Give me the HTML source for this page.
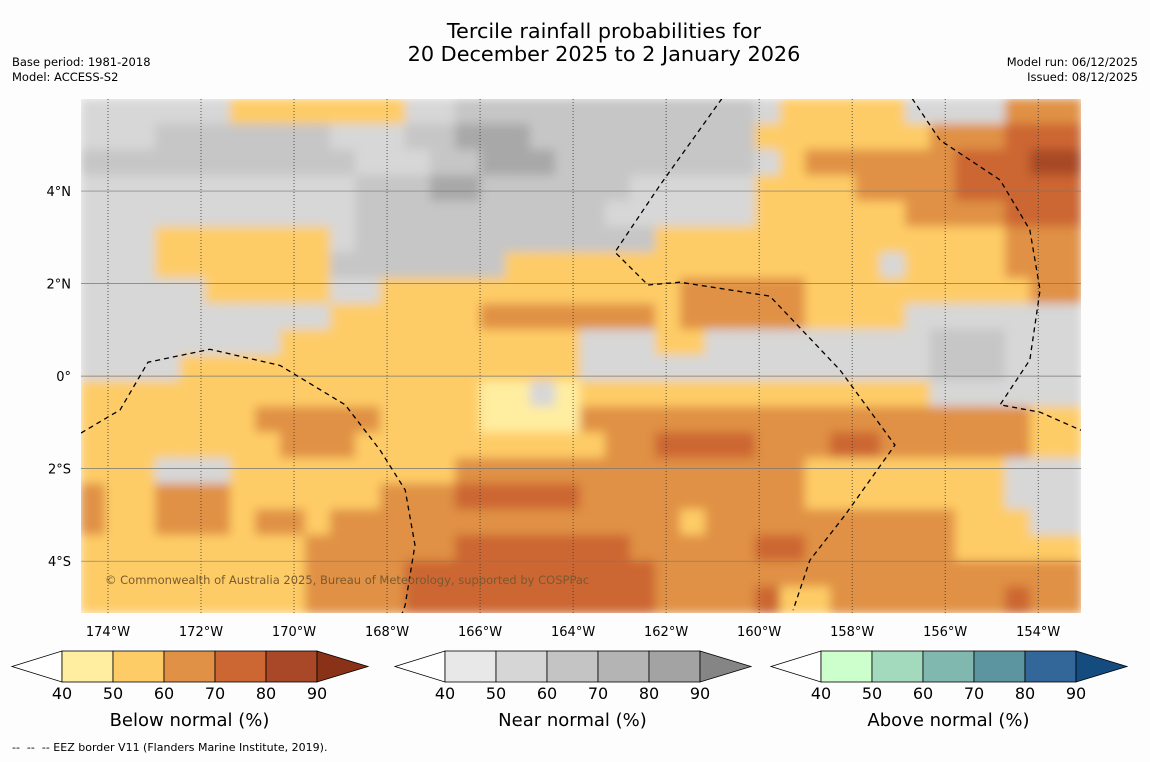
<!DOCTYPE html>
<html><head><meta charset="utf-8">
<style>
body{margin:0;background:#fdfdfd;font-family:"DejaVu Sans",sans-serif;}
svg text{font-family:"DejaVu Sans",sans-serif;fill:#000;}
</style></head>
<body>
<svg id="chart" width="1150" height="758" xmlns="http://www.w3.org/2000/svg">
<rect width="1150" height="758" fill="#fdfdfd"/>
<text x="604" y="38" font-size="20.8" text-anchor="middle">Tercile rainfall probabilities for</text>
<text x="604" y="61" font-size="20.8" text-anchor="middle">20 December 2025 to 2 January 2026</text>
<text x="12" y="66" font-size="11.5">Base period: 1981-2018</text>
<text x="12" y="81" font-size="11.5">Model: ACCESS-S2</text>
<text x="1138" y="66" font-size="11.5" text-anchor="end">Model run: 06/12/2025</text>
<text x="1138" y="81" font-size="11.5" text-anchor="end">Issued: 08/12/2025</text>
<defs>
<clipPath id="mapclip"><rect x="81" y="99" width="1000" height="514"/></clipPath>
<filter id="soft" x="-5%" y="-5%" width="110%" height="110%"><feGaussianBlur stdDeviation="5"/></filter>
</defs>
<g id="map" clip-path="url(#mapclip)">
<g id="cells" filter="url(#soft)"></g>
<g id="grid"></g>
<g id="eez"></g>
</g>
<text x="105" y="584" font-size="11.5" style="fill:#7a5a30">© Commonwealth of Australia 2025, Bureau of Meteorology, supported by COSPPac</text>
<g id="axes"></g>
<g id="bars"></g>
<text x="12" y="751" font-size="11">-- &#160;-- &#160;-- EEZ border V11 (Flanders Marine Institute, 2019).</text>
</svg>
<script>
const lonTicks=[-174,-172,-170,-168,-166,-164,-162,-160,-158,-156,-154];
const latTicks=[4,2,0,-2,-4];
const barLevels=[40,50,60,70,80,90];
const barTitles=["Below normal (%)","Near normal (%)","Above normal (%)"];
const belowColors=["#ffeda0","#fecc66","#e09145","#cc6633","#a84828","#8a3218"];
const nearColors=["#e8e8e8","#d6d6d6","#c4c4c4","#b4b4b4","#a3a3a3","#858585"];
const aboveColors=["#ccffcc","#a3d9bd","#80b8b0","#5c94a0","#336699","#144c80"];
const categoryRows=[
"ggggggYYYYYYYggGGGGGGGGGGGGgYYYYYggggOOO",
"gggGGGGGGGgggGGHHHGGGGGGGGGYYYYYYYOOORRR",
"GGGGGGGGGGGgggGGHHHGGGGGGGGgYOOOOOORRRDD",
"gggggggggggGGGHHGGGGGGgggggYYYYOOOORRRRR",
"gggggggggggGGGGGGGGGGggggggYYYYYYOOOORRR",
"gggYYYYYYYgGGGGGGGGGGGGYYYYYYYYYYYYYYOOO",
"gggYYYYYYYGGGGGGGYYYYYYYYYYYYYYYgYYYYOOO",
"gggggYYYYYggYYYYYYYYYYYYOOOOOYYYYYYYYYOO",
"ggggggggggYYYYYYOOOOOOOYOOOOOYYYYggggggg",
"ggggggggYYYYYYYYYYYYgggYYgggggggggGGGggg",
"ggggYYYYYYYYYYYYYYYYggggggggggggggGGGggg",
"YYYYYYYYYYYYYYYYyygyYYYYYYYYYYYYYYgggggg",
"YYYYYYYOOOOOYYYYyyyyOOOOOOOOOOOOOOOOOOYY",
"YYYYYYYYOOOYYYYYYYYYYOORRRROOORROOOOOOYY",
"YYYgggYYYYYYYYYOOOOOOOOOOOOOOYYYYYYYYggg",
"OYYOOOYYYYYYOOORRRRROOOOOOOOOYYYYYYYYggg",
"OYYOOOYOOYOOOOOOOOOOOOOOYOOOOOOOOOOYYYgg",
"YYYYYYYYYOOOOOORRRRRRROOOOORROOOOOOYYYYY",
"YYYYYYYYYOOOORRRRRRRRRROOOOOOOOOOOOOOOOO",
"YYYYYYYYYOOOORRRRRRRRRROOOORYYOOOOOOOROO"];
const eezWest=[[-174.58,-1.23],[-173.74,-0.73],[-173.14,0.3],[-171.81,0.58],[-170.3,0.23],[-168.9,-0.62],[-168.15,-1.6],[-167.61,-2.46],[-167.4,-3.65],[-167.61,-4.95],[-167.7,-5.2]];
const eezNorth=[[-160.8,6],[-162.13,4.13],[-163.1,2.68],[-162.39,1.97],[-161.7,2.03],[-159.77,1.73],[-158.26,0.13],[-157.08,-1.49],[-158.15,-3.0],[-158.91,-3.98],[-159.27,-5.06]];
const eezEast=[[-156.71,6],[-156.11,5.1],[-154.82,4.24],[-154.18,3.16],[-153.96,1.86],[-154.18,0.35],[-154.82,-0.62],[-153.96,-0.78],[-153.08,-1.17]];
const catColor={g:"#d7d7d7",G:"#c6c6c6",H:"#a8a8a8",y:"#ffeda0",Y:"#fecc66",O:"#e09145",R:"#cc6633",D:"#a84828"};
const NS="http://www.w3.org/2000/svg";
const X0=81,X1=1081,Y0=99,Y1=613,LON0=-174.58,LON1=-153.08,LAT0=5.99,LAT1=-5.12;
function xs(lon){return X0+(lon-LON0)/(LON1-LON0)*(X1-X0);}
function ys(lat){return Y0+(lat-LAT0)/(LAT1-LAT0)*(Y1-Y0);}
function mk(t,a,p){const e=document.createElementNS(NS,t);for(const k in a)e.setAttribute(k,a[k]);p.appendChild(e);return e;}
const cells=document.getElementById('cells');
const nr=categoryRows.length,nc=categoryRows[0].length,cw=(X1-X0)/nc,ch=(Y1-Y0)/nr;
categoryRows.forEach((row,j)=>{[...row].forEach((c,i)=>{
 const r=mk('rect',{x:X0+i*cw-1,y:Y0+j*ch-1,width:cw+2,height:ch+2,fill:catColor[c]},cells);
 
 
});});
const grid=document.getElementById('grid'),axes=document.getElementById('axes');
lonTicks.forEach(l=>{const x=xs(l);
 const g=mk('line',{x1:x,x2:x,y1:Y0,y2:Y1,stroke:'#333','stroke-width':0.8,'stroke-dasharray':'1,2'},grid);
 
 
 const t=mk('text',{x:x,y:636,'font-size':13,'text-anchor':'middle'},axes);t.textContent=Math.abs(l)+'°W';
 
 
});
latTicks.forEach(l=>{const y=ys(l);
 const g=mk('line',{x1:X0,x2:X1,y1:y,y2:y,stroke:'#777','stroke-width':0.7},grid);
 
 
 const t=mk('text',{x:71,y:y+5,'font-size':13,'text-anchor':'end'},axes);t.textContent=l===0?'0°':Math.abs(l)+'°'+(l>0?'N':'S');
 
 
});
const eez=document.getElementById('eez');
[eezWest,eezNorth,eezEast].forEach(p=>{
 const e=mk('polyline',{points:p.map(q=>xs(q[0])+','+ys(q[1])).join(' '),fill:'none',stroke:'#000','stroke-width':1.3,'stroke-dasharray':'5,4'},eez);
 
 
});
const bars=document.getElementById('bars');
[[12,belowColors],[395,nearColors],[771,aboveColors]].forEach((b,k)=>{
 const x0=b[0],cols=b[1],bw=51,y=651,h=31;
 const g=mk('g',{},bars);
 
 
 mk('polygon',{points:`${x0},${y+h/2} ${x0+50},${y} ${x0+50},${y+h}`,fill:'#fff',stroke:'#000','stroke-width':0.8},g);
 for(let i=0;i<5;i++){mk('rect',{x:x0+50+i*bw,y:y,width:bw,height:h,fill:cols[i],stroke:'#000','stroke-width':0.8},g);}
 const xe=x0+50+5*bw;
 mk('polygon',{points:`${xe},${y} ${xe+51},${y+h/2} ${xe},${y+h}`,fill:cols[5],stroke:'#000','stroke-width':0.8},g);
 barLevels.forEach((v,i)=>{const t=mk('text',{x:x0+50+i*bw,y:699,'font-size':16,'text-anchor':'middle'},g);t.textContent=v;});
 const t=mk('text',{x:x0+50+2.5*bw,y:726,'font-size':18,'text-anchor':'middle'},g);t.textContent=barTitles[k];
});
</script>
</body></html>
